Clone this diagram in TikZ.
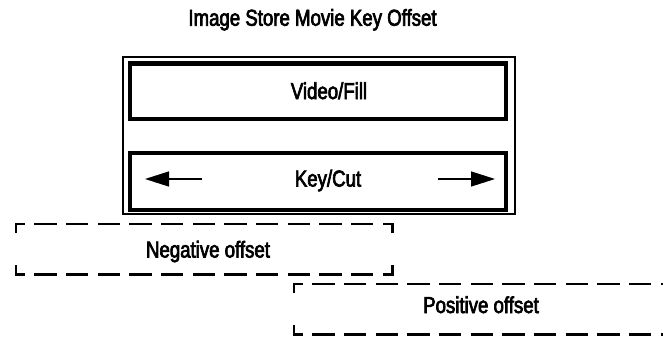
\documentclass[tikz,border=0pt]{standalone}
\usepackage{fontspec}
\setmainfont{Liberation Sans}[FakeStretch=0.81,FakeBold=3]
\usetikzlibrary{arrows.meta}

\begin{document}
\begin{tikzpicture}[x=1pt,y=-1pt,
 lbl/.style={font=\fontsize{23}{27}\selectfont,anchor=base,inner sep=0pt},
 frame/.style={draw,line width=1.3pt,minimum width=392pt,minimum height=157pt,inner sep=0pt},
 layer/.style={draw,line width=4.2pt,minimum width=376pt,inner sep=0pt},
 offbox/.style={minimum height=50pt,inner sep=0pt},
 hdash/.style={line width=2.6pt,line cap=rect,dash pattern=on 20pt off 11.67pt,dash phase=12pt},
 vdash/.style={line width=2.6pt,line cap=rect,dash pattern=on 8pt off 34pt},
 move/.style={-{Triangle[length=24pt,width=15pt]},line width=1.3pt}
]
\clip (0,0) rectangle (663,337);
\node[lbl] (title) at (312.5,25.7) {Image Store Movie Key Offset};
% image store with its two layers
\node[frame] (store) at (319,135.5) {};
\node[layer,minimum height=55.5pt] (fill) at (318,91.25) {};
\node[layer,minimum height=57pt] (key) at (318,181.5) {};
\node[lbl] (fillText) at (329,99) {Video/Fill};
\node[lbl] (keyText) at (328,186.5) {Key/Cut};
\coordinate (kl0) at (202,179); \coordinate (kl1) at (145,179);
\coordinate (kr0) at (438,179); \coordinate (kr1) at (495,179);
\draw[move] (kl0)--(kl1); \draw[move] (kr0)--(kr1);
% offsets
\node[offbox,minimum width=376pt] (neg) at (204,249) {};
\draw[hdash] (neg.north west)--(neg.north east); \draw[hdash] (neg.south west)--(neg.south east);
\draw[vdash] (neg.north west)--(neg.south west); \draw[vdash] (neg.north east)--(neg.south east);
\node[lbl] (negText) at (208,257.5) {Negative offset};
\node[offbox,minimum width=400pt] (pos) at (494,309) {};
\draw[hdash] (pos.north west)--(pos.north east); \draw[hdash] (pos.south west)--(pos.south east);
\draw[vdash] (pos.north west)--(pos.south west);
\node[lbl] (posText) at (481,313) {Positive offset};
\end{tikzpicture}
\end{document}
